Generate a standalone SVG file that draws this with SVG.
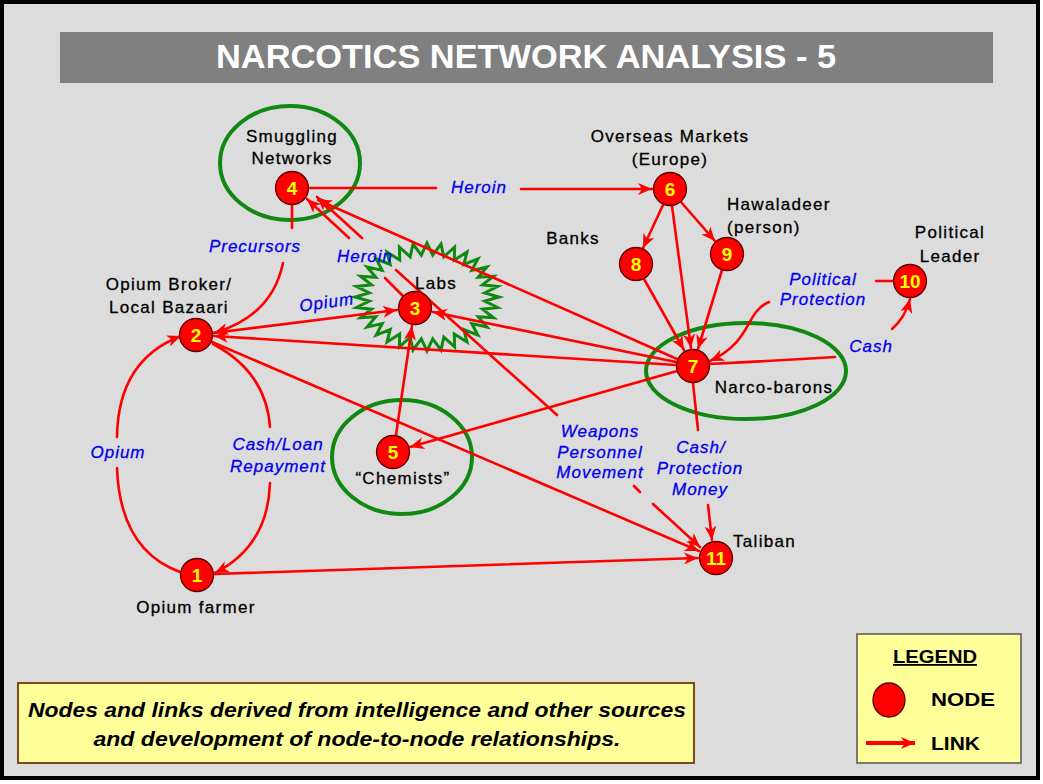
<svg xmlns="http://www.w3.org/2000/svg" width="1043" height="784" viewBox="0 0 1043 784">
<defs>
<style>
.lnk{fill:none;stroke:#ff0000;stroke-width:2.6;stroke-linecap:round}
.arr{marker-end:url(#ah)}
.nd{fill:#ff0000;stroke:#5a0000;stroke-width:1.3}
.num{font-family:"Liberation Sans",Arial,sans-serif;font-weight:bold;font-size:19px;fill:#ffff00;text-anchor:middle}
.lab{font-family:"Liberation Sans",Arial,sans-serif;font-size:17px;fill:#000;stroke:#000;stroke-width:0.3;letter-spacing:1.3px;text-anchor:middle}
.ll{font-family:"Liberation Sans",Arial,sans-serif;font-size:17px;font-style:italic;fill:#0000ee;stroke:#0000ee;stroke-width:0.3;letter-spacing:1px;text-anchor:middle}
.grp{fill:none;stroke:#118811;stroke-width:4}
.star{fill:none;stroke:#118811;stroke-width:3;stroke-linejoin:miter}
.box{font-family:"Liberation Sans",Arial,sans-serif;font-weight:bold;font-style:italic;font-size:21px;fill:#000;text-anchor:middle}
.leg{font-family:"Liberation Sans",Arial,sans-serif;font-weight:bold;font-size:18px;fill:#000}
</style>
<marker id="ah" markerUnits="userSpaceOnUse" markerWidth="15" markerHeight="12" refX="14" refY="6" orient="auto">
<path d="M0,0 L14,6 L0,12 L4,6 z" fill="#ff0000"/>
</marker>
</defs>
<rect x="2" y="2" width="1036" height="776" fill="#dcdcdc" stroke="#000" stroke-width="4"/>
<g id="title">
<rect x="60" y="32" width="933" height="51" fill="#808080"/>
<text x="526" y="68" font-family="'Liberation Sans',Arial,sans-serif" font-weight="bold" font-size="33" fill="#fff" text-anchor="middle" textLength="620" lengthAdjust="spacingAndGlyphs">NARCOTICS NETWORK ANALYSIS - 5</text>
</g>
<g id="clusters">
<ellipse class="grp" cx="290" cy="163" rx="70" ry="57"/>
<ellipse class="grp" cx="746" cy="371" rx="100" ry="48"/>
<ellipse class="grp" cx="402" cy="457" rx="70" ry="57"/>
<polygon class="star" points="499,297 484.7,301.1 497.6,307.5 482.5,309.2 493.5,317.7 478.2,316.8 486.9,327 471.8,323.6 477.9,335.2 463.8,329.5 467,341.9 454.3,334 454.6,346.9 443.8,337.2 441,350 432.7,338.8 427,351 421.3,338.8 413,350 410.2,337.2 399.4,346.9 399.7,334 387,341.9 390.2,329.5 376.1,335.2 382.2,323.6 367.1,327 375.8,316.8 360.5,317.7 371.5,309.2 356.4,307.5 369.3,301.1 355,297 369.3,292.9 356.4,286.5 371.5,284.8 360.5,276.3 375.8,277.2 367.1,267 382.2,270.4 376.1,258.8 390.2,264.5 387,252.1 399.7,260 399.4,247.1 410.2,256.8 413,244 421.3,255.2 427,243 432.7,255.2 441,244 443.8,256.8 454.6,247.1 454.3,260 467,252.1 463.8,264.5 477.9,258.8 471.8,270.4 486.9,267 478.2,277.2 493.5,276.3 482.5,284.8 497.6,286.5 484.7,292.9"/>
</g>
<g id="connectors">
<path class="lnk" d="M309,188 L436,188"/>
<path class="lnk arr" d="M521,189 L652,189"/>
<text class="ll" x="479" y="193">Heroin</text>
<path class="lnk" d="M292,205 L292,228"/>
<path class="lnk arr" d="M283,263 Q272,316 214,333"/>
<text class="ll" x="255" y="252">Precursors</text>
<path class="lnk" d="M403,296 L385,278"/>
<path class="lnk arr" d="M349,238 L307,199"/>
<text class="ll" x="365" y="262">Heroin</text>
<path class="lnk arr" d="M362,238 L317,197"/>
<path class="lnk" d="M396,270 L557,415"/>
<path class="lnk" d="M634,486 L640,492"/>
<path class="lnk arr" d="M653,504 L700,547"/>
<text class="ll" x="600" y="437">Weapons</text>
<text class="ll" x="600" y="458">Personnel</text>
<text class="ll" x="600" y="478">Movement</text>
<path class="lnk arr" d="M677,359 L318,200"/>
<path class="lnk arr" d="M213,333 L397,310"/>
<text class="ll" x="327" y="308" transform="rotate(-8 327 305)">Opium</text>
<path class="lnk arr" d="M676,365 L214,336"/>
<path class="lnk arr" d="M676,362 L433,312"/>
<path class="lnk arr" d="M677,371 L410,447"/>
<path class="lnk arr" d="M396,435 L412,326"/>
<path class="lnk arr" d="M212,342 L699,551"/>
<path class="lnk arr" d="M214,574 L698,558"/>
<path class="lnk" d="M180,572 Q120,550 117,468"/>
<path class="lnk arr" d="M117,437 Q118,360 181,336"/>
<text class="ll" x="118" y="458">Opium</text>
<path class="lnk" d="M213,344 Q266,372 270,427"/>
<path class="lnk arr" d="M270,483 Q268,546 215,573"/>
<text class="ll" x="278" y="450">Cash/Loan</text>
<text class="ll" x="278" y="472">Repayment</text>
<path class="lnk arr" d="M663,205 L643,248"/>
<path class="lnk arr" d="M681,202 L715,241"/>
<path class="lnk arr" d="M672,206 L691,348"/>
<path class="lnk arr" d="M644,279 L684,350"/>
<path class="lnk arr" d="M722,270 L698,349"/>
<path class="lnk" d="M893,281 L876,281"/>
<path class="lnk arr" d="M769,302 C745,312 752,342 710,361"/>
<text class="ll" x="823" y="285">Political</text>
<text class="ll" x="823" y="305">Protection</text>
<path class="lnk" d="M709,364 Q770,361 835,357"/>
<path class="lnk arr" d="M892,329 Q905,318 910,299"/>
<text class="ll" x="871" y="352">Cash</text>
<path class="lnk" d="M693,383 L698,430"/>
<path class="lnk arr" d="M708,505 L712,540"/>
<text class="ll" x="701" y="453">Cash/</text>
<text class="ll" x="700" y="474">Protection</text>
<text class="ll" x="700" y="495">Money</text>
</g>
<g id="node1"><circle class="nd" cx="197" cy="575" r="16.5"/><text class="num" x="197" y="582">1</text><text class="lab" x="196" y="613">Opium farmer</text></g>
<g id="node2"><circle class="nd" cx="196" cy="335" r="16.5"/><text class="num" x="196" y="342">2</text><text class="lab" x="169" y="290">Opium Broker/</text><text class="lab" x="169" y="313">Local Bazaari</text></g>
<g id="node3"><circle class="nd" cx="415" cy="308" r="16.5"/><text class="num" x="415" y="315">3</text><text class="lab" x="436" y="289">Labs</text></g>
<g id="node4"><circle class="nd" cx="292" cy="188" r="16.5"/><text class="num" x="292" y="195">4</text><text class="lab" x="292" y="142">Smuggling</text><text class="lab" x="292" y="164">Networks</text></g>
<g id="node5"><circle class="nd" cx="393" cy="452" r="16.5"/><text class="num" x="393" y="459">5</text><text class="lab" x="403" y="484">“Chemists”</text></g>
<g id="node6"><circle class="nd" cx="670" cy="189" r="16.5"/><text class="num" x="670" y="196">6</text><text class="lab" x="670" y="142">Overseas Markets</text><text class="lab" x="670" y="165">(Europe)</text></g>
<g id="node7"><circle class="nd" cx="693" cy="366" r="16.5"/><text class="num" x="693" y="373">7</text><text class="lab" x="774" y="393">Narco-barons</text></g>
<g id="node8"><circle class="nd" cx="636" cy="264" r="16.5"/><text class="num" x="636" y="271">8</text><text class="lab" x="573" y="244">Banks</text></g>
<g id="node9"><circle class="nd" cx="727" cy="254" r="16.5"/><text class="num" x="727" y="261">9</text><text class="lab" x="727" y="210" style="text-anchor:start">Hawaladeer</text><text class="lab" x="727" y="233" style="text-anchor:start">(person)</text></g>
<g id="node10"><circle class="nd" cx="910" cy="281" r="16.5"/><text class="num" x="910" y="288">10</text><text class="lab" x="950" y="238">Political</text><text class="lab" x="950" y="262">Leader</text></g>
<g id="node11"><circle class="nd" cx="716" cy="558" r="16.5"/><text class="num" x="716" y="565">11</text><text class="lab" x="733" y="547" style="text-anchor:start">Taliban</text></g>
<g id="note">
<rect x="18" y="683" width="676" height="80" fill="#ffff99" stroke="#7a4a1a" stroke-width="2"/>
<text class="box" x="357" y="717" textLength="658" lengthAdjust="spacingAndGlyphs">Nodes and links derived from intelligence and other sources</text>
<text class="box" x="357" y="746" textLength="527" lengthAdjust="spacingAndGlyphs">and development of node-to-node relationships.</text>
</g>
<g id="legend">
<rect x="857" y="634" width="164" height="129" fill="#ffff99" stroke="#555" stroke-width="1.5"/>
<text class="leg" x="893" y="663" textLength="84" lengthAdjust="spacingAndGlyphs" text-decoration="underline">LEGEND</text>
<ellipse cx="889" cy="700" rx="16" ry="17" fill="#ff0000" stroke="#5a0000" stroke-width="1.3"/>
<text class="leg" x="931" y="706" textLength="64" lengthAdjust="spacingAndGlyphs">NODE</text>
<path d="M866,743 L915,743" stroke="#ff0000" stroke-width="4" fill="none" marker-end="url(#ah)"/>
<text class="leg" x="931" y="750" textLength="49" lengthAdjust="spacingAndGlyphs">LINK</text>
</g>
</svg>
